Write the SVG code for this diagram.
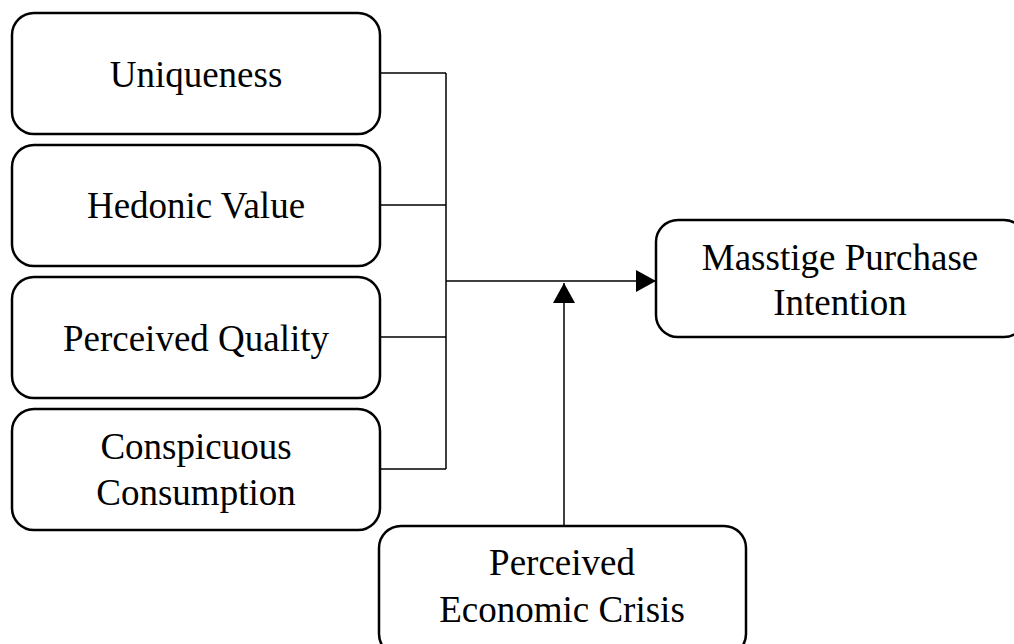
<svg xmlns="http://www.w3.org/2000/svg" width="1014" height="644" viewBox="0 0 1014 644">
<defs>
<style>
.box{fill:#fff;stroke:#000;stroke-width:2.5}
.t{font-family:"Liberation Serif","Times New Roman",serif;font-size:37px;fill:#000;text-anchor:middle}
.ln{fill:none;stroke:#000;stroke-width:1.5}
</style>
<marker id="ah" viewBox="0 0 20 22" refX="20" refY="11" markerWidth="20" markerHeight="22" markerUnits="userSpaceOnUse" orient="auto">
<path d="M0,0 L20,11 L0,22 Z" fill="#000"/>
</marker>
</defs>
<rect width="1014" height="644" fill="#fff"/>
<g id="connectors">
<path class="ln" d="M380,73 H446 M380,205 H446 M380,337 H446 M380,469 H446 M446,73 V469"/>
<path class="ln" d="M446,281 H656" marker-end="url(#ah)"/>
<path class="ln" d="M564,526 V283" marker-end="url(#ah)"/>
</g>
<g id="uniqueness">
<rect class="box" x="12" y="13" width="368" height="121" rx="22"/>
<text class="t" x="196" y="87">Uniqueness</text>
</g>
<g id="hedonic">
<rect class="box" x="12" y="145" width="368" height="121" rx="22"/>
<text class="t" x="196" y="218">Hedonic Value</text>
</g>
<g id="quality">
<rect class="box" x="12" y="277" width="368" height="121" rx="22"/>
<text class="t" x="196" y="351">Perceived Quality</text>
</g>
<g id="conspicuous">
<rect class="box" x="12" y="409" width="368" height="121" rx="22"/>
<text class="t" x="196" y="459">Conspicuous</text>
<text class="t" x="196" y="505">Consumption</text>
</g>
<g id="masstige">
<rect class="box" x="656" y="220" width="370" height="117" rx="22"/>
<text class="t" x="840" y="270">Masstige Purchase</text>
<text class="t" x="840" y="315">Intention</text>
</g>
<g id="crisis">
<rect class="box" x="379" y="526" width="367" height="130" rx="22"/>
<text class="t" x="562" y="575">Perceived</text>
<text class="t" x="562" y="622">Economic Crisis</text>
</g>
</svg>
